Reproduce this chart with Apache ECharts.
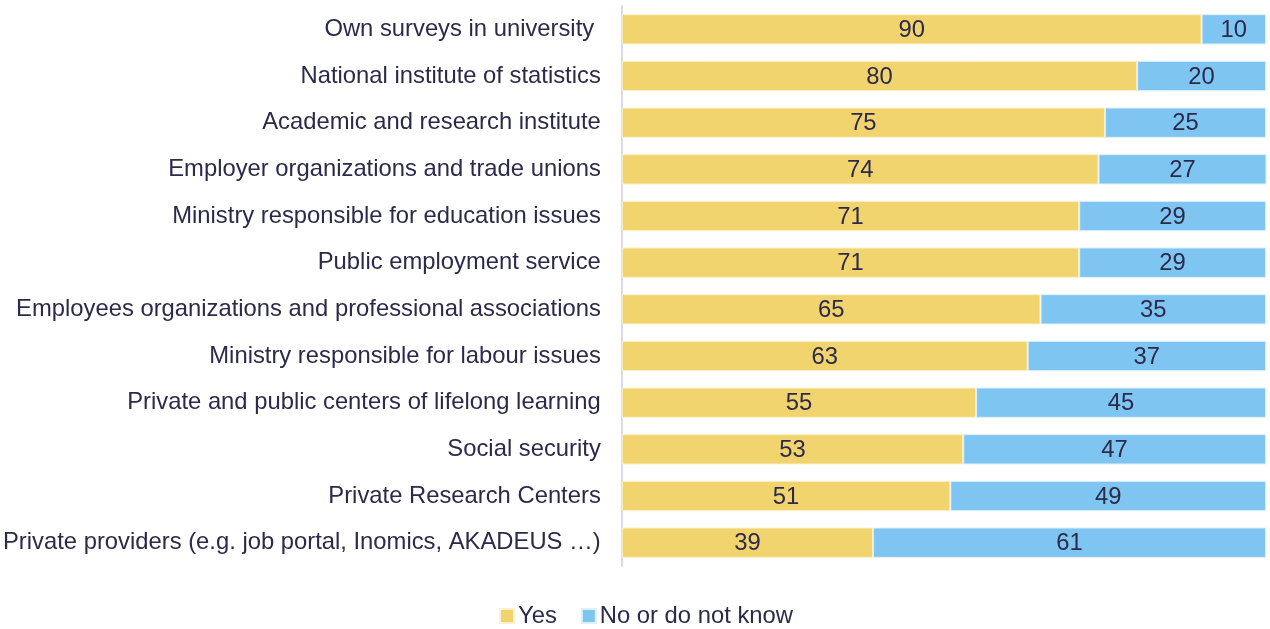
<!DOCTYPE html>
<html>
<head>
<meta charset="utf-8">
<script src="https://cdn.jsdelivr.net/npm/echarts@6/dist/echarts.min.js"></script>
<style>
html,body{margin:0;padding:0;background:#fff;}
#chart{width:1270px;height:629px;}
</style>
</head>
<body>
<div id="chart"></div>
<script>
// Sources of information, share of answers (%), top row first
const categories = [
  "Own surveys in university ",
  "National institute of statistics",
  "Academic and research institute",
  "Employer organizations and trade unions",
  "Ministry responsible for education issues",
  "Public employment service",
  "Employees organizations and professional associations",
  "Ministry responsible for labour issues",
  "Private and public centers of lifelong learning",
  "Social security",
  "Private Research Centers",
  "Private providers (e.g. job portal, Inomics, AKADEUS …)"
];
const yesValues = [90, 80, 75, 74, 71, 71, 65, 63, 55, 53, 51, 39];
const noValues  = [10, 20, 25, 27, 29, 29, 35, 37, 45, 47, 49, 61];
const seriesNames = ["Yes", "No or do not know"];

const textColor = "#2b2a4a";
const fontFamily = "'Liberation Sans', Arial, sans-serif";
const fontSize = 23.8;

const chart = echarts.init(document.getElementById("chart"), null, {renderer: "canvas"});

const labelStyle = {
  show: true,
  position: "inside",
  offset: [0, 1],
  color: textColor,
  fontSize: fontSize,
  fontFamily: fontFamily
};

chart.setOption({
  animation: false,
  textStyle: {fontFamily: fontFamily},
  grid: {left: 621, right: 4, top: 6, bottom: 63, containLabel: false},
  legend: {
    data: seriesNames,
    left: 494,
    top: 599,
    itemWidth: 14,
    itemHeight: 14,
    itemGap: 24,
    icon: "rect",
    textStyle: {color: textColor, fontSize: fontSize, fontFamily: fontFamily, padding: [0, 0, 0, -1]}
  },
  xAxis: {
    type: "value",
    min: 0,
    max: 100,
    show: false
  },
  yAxis: {
    type: "category",
    data: categories,
    inverse: true,
    axisLine: {show: true, lineStyle: {color: "#d9d9e8", width: 2}},
    axisTick: {show: false},
    axisLabel: {color: textColor, fontSize: fontSize, fontFamily: fontFamily, margin: 21, lineHeight: 26, padding: [3, 0, 0, 0]}
  },
  series: [
    {
      name: seriesNames[0],
      type: "bar",
      stack: "total",
      data: yesValues,
      barCategoryGap: "35%",
      itemStyle: {color: "#f2d46e", borderColor: "#fbf1cf", borderWidth: 1},
      label: labelStyle
    },
    {
      name: seriesNames[1],
      type: "bar",
      stack: "total",
      data: noValues,
      barCategoryGap: "35%",
      itemStyle: {color: "#7fc5f2", borderColor: "#def0fb", borderWidth: 1},
      label: labelStyle
    }
  ]
});
</script>
</body>
</html>
